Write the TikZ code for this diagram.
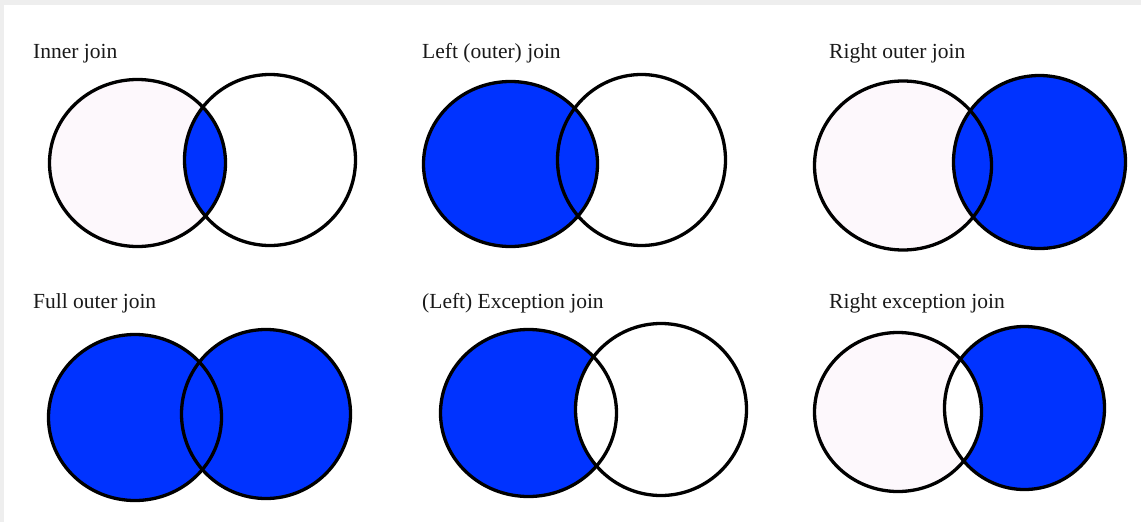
\documentclass[tikz,border=0pt]{standalone}
\usepackage{fontspec}
\setmainfont{Liberation Serif}
\usepackage{xcolor}
\usepackage{tikz}
\definecolor{joinblue}{RGB}{0,51,255}
\definecolor{paleset}{RGB}{253,248,252}
\definecolor{framegray}{RGB}{238,238,238}
\definecolor{labelgray}{RGB}{25,25,25}
\tikzset{
  ring/.style={
    draw=black,
    line width=3.3pt
  },
  bluefill/.style={fill=joinblue},
  palefill/.style={fill=paleset},
  whitefill/.style={fill=white},
  joinlabel/.style={
    anchor=base west,
    inner sep=0pt,
    text=labelgray,
    font=\fontsize{21.5}{26}\selectfont
  }
}

\begin{document}
\begin{tikzpicture}[x=1pt, y=-1pt]
\useasboundingbox (0,0) rectangle (1141,522);
\fill[white] (0,0) rectangle (1141,522);
\fill[framegray] (0,0) rectangle (1141,5);
\fill[framegray] (0,0) rectangle (4,522);

% inner join
\node[joinlabel] (innerlbl) at (33,58.5) {Inner join};
\coordinate (innerL) at (137.5,163);
\coordinate (innerR) at (270,160);
\fill[palefill] (innerL) ellipse [x radius=88pt, y radius=83.5pt];
\begin{scope}
  \clip (innerL) ellipse [x radius=88pt, y radius=83.5pt];
  \fill[bluefill] (innerR) ellipse [x radius=85.5pt, y radius=85.5pt];
\end{scope}
\draw[ring] (innerL) ellipse [x radius=88pt, y radius=83.5pt];
\draw[ring] (innerR) ellipse [x radius=85.5pt, y radius=85.5pt];

% left outer join
\node[joinlabel] (leftlbl) at (422,58.5) {Left (outer) join};
\coordinate (leftL) at (510.5,164);
\coordinate (leftR) at (641.5,160);
\fill[bluefill] (leftL) ellipse [x radius=87pt, y radius=82.5pt];
\draw[ring] (leftL) ellipse [x radius=87pt, y radius=82.5pt];
\draw[ring] (leftR) ellipse [x radius=84pt, y radius=85.5pt];

% right outer join
\node[joinlabel] (rightlbl) at (829,58.5) {Right outer join};
\coordinate (rightL) at (903,165.5);
\coordinate (rightR) at (1039.5,162);
\fill[palefill] (rightL) ellipse [x radius=88.5pt, y radius=84.5pt];
\fill[bluefill] (rightR) ellipse [x radius=86pt, y radius=86.5pt];
\draw[ring] (rightL) ellipse [x radius=88.5pt, y radius=84.5pt];
\draw[ring] (rightR) ellipse [x radius=86pt, y radius=86.5pt];

% full outer join
\node[joinlabel] (fulllbl) at (33,308.5) {Full outer join};
\coordinate (fullL) at (135,417.5);
\coordinate (fullR) at (266,414);
\fill[bluefill] (fullL) ellipse [x radius=86.5pt, y radius=83pt];
\fill[bluefill] (fullR) ellipse [x radius=84.5pt, y radius=84.5pt];
\draw[ring] (fullL) ellipse [x radius=86.5pt, y radius=83pt];
\draw[ring] (fullR) ellipse [x radius=84.5pt, y radius=84.5pt];

% left exception join
\node[joinlabel] (exclbl) at (422,308.5) {(Left) Exception join};
\coordinate (excL) at (528.5,413);
\coordinate (excR) at (661,409.5);
\fill[bluefill] (excL) ellipse [x radius=88pt, y radius=83.5pt];
\fill[whitefill] (excR) ellipse [x radius=85.5pt, y radius=86pt];
\draw[ring] (excL) ellipse [x radius=88pt, y radius=83.5pt];
\draw[ring] (excR) ellipse [x radius=85.5pt, y radius=86pt];

% right exception join
\node[joinlabel] (rexclbl) at (829,308.5) {Right exception join};
\coordinate (rexcL) at (898,412);
\coordinate (rexcR) at (1024.5,408);
\fill[palefill] (rexcL) ellipse [x radius=83.5pt, y radius=79.5pt];
\fill[bluefill] (rexcR) ellipse [x radius=80pt, y radius=81.5pt];
\begin{scope}
  \clip (rexcL) ellipse [x radius=83.5pt, y radius=79.5pt];
  \fill[whitefill] (rexcR) ellipse [x radius=80pt, y radius=81.5pt];
\end{scope}
\draw[ring] (rexcL) ellipse [x radius=83.5pt, y radius=79.5pt];
\draw[ring] (rexcR) ellipse [x radius=80pt, y radius=81.5pt];
\end{tikzpicture}
\end{document}
